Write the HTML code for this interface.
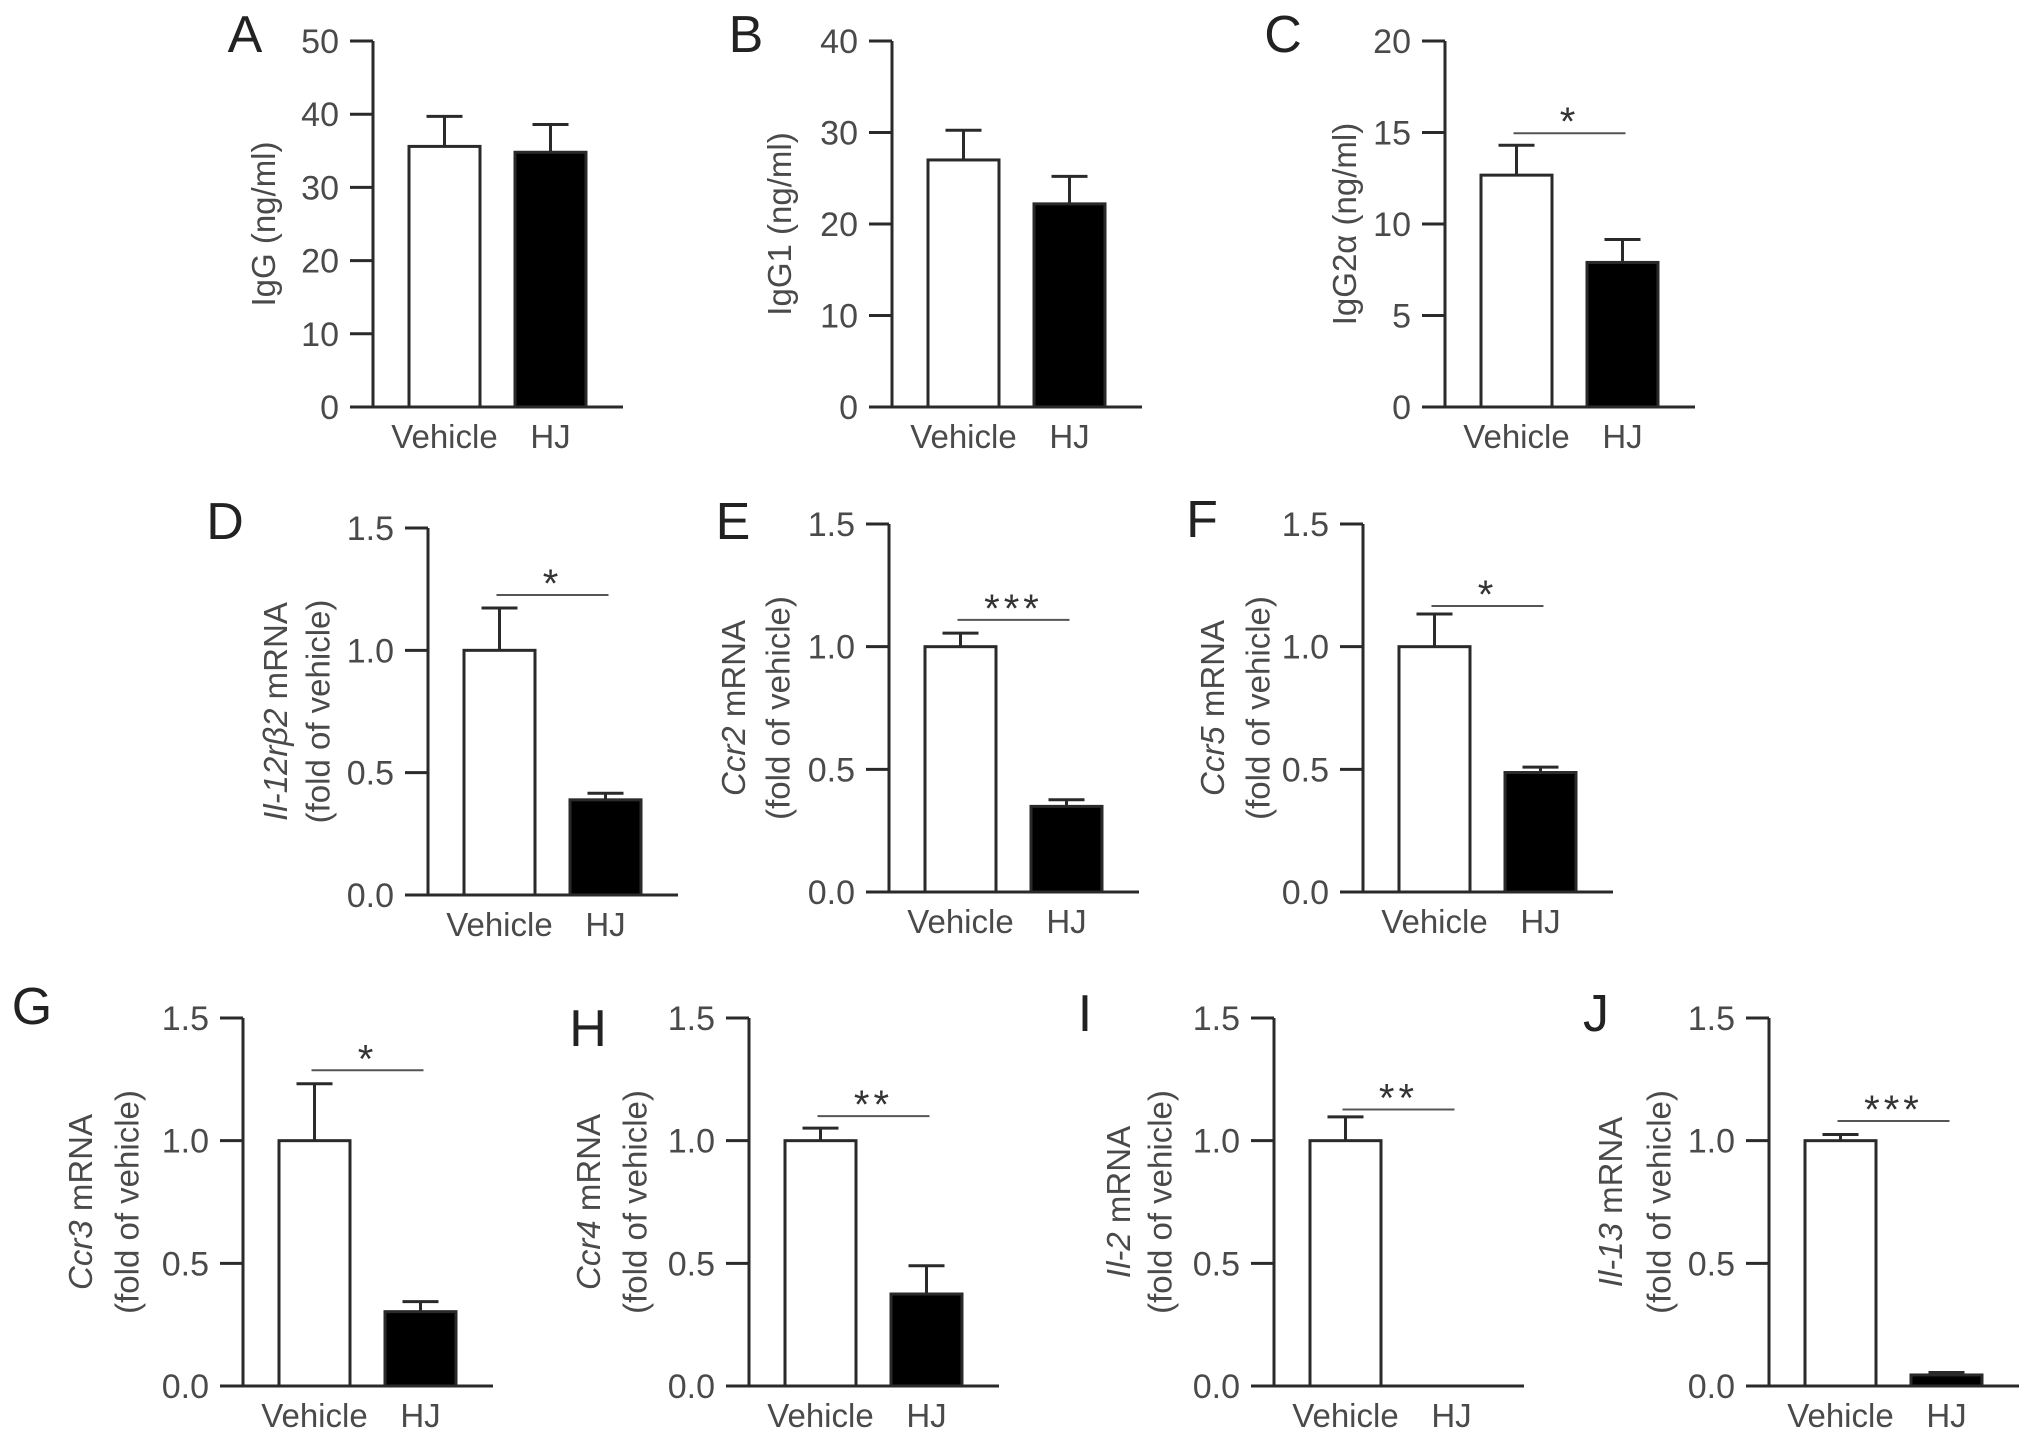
<!DOCTYPE html>
<html><head><meta charset="utf-8"><style>
html,body{margin:0;padding:0;background:#fff;}
svg{display:block;font-family:"Liberation Sans",Arial,sans-serif;}
</style></head><body>
<svg id="fig" width="2031" height="1444" viewBox="0 0 2031 1444" xmlns="http://www.w3.org/2000/svg"></svg>
<script>
const panelLetters = ["A","B","C","D","E","F","G","H","I","J"];
const groupLabels = ["Vehicle","HJ"];
const vehicleMeans = [35.6, 27.0, 12.67, 1.0, 1.0, 1.0, 1.0, 1.0, 1.0, 1.0];
const vehicleErrs  = [4.1, 3.25, 1.63, 0.173, 0.055, 0.133, 0.232, 0.051, 0.097, 0.025];
const hjMeans      = [34.8, 22.2, 7.9, 0.389, 0.349, 0.487, 0.303, 0.375, 0.0, 0.045];
const hjErrs       = [3.8, 3.0, 1.25, 0.027, 0.027, 0.022, 0.041, 0.115, 0.0, 0.01];
const yMaxes       = [50, 40, 20, 1.5, 1.5, 1.5, 1.5, 1.5, 1.5, 1.5];
const yTickSteps   = [10, 10, 5, 0.5, 0.5, 0.5, 0.5, 0.5, 0.5, 0.5];
const sigValues    = [null, null, 14.96, 1.226, 1.109, 1.166, 1.287, 1.10, 1.127, 1.08];
const sigLabels    = ["", "", "*", "*", "***", "*", "*", "**", "**", "***"];
const titleLine1 = [["","IgG (ng/ml)"],["","IgG1 (ng/ml)"],["","IgG2\u03B1 (ng/ml)"],["Il-12r\u03B22"," mRNA"],["Ccr2"," mRNA"],["Ccr5"," mRNA"],["Ccr3"," mRNA"],["Ccr4"," mRNA"],["Il-2"," mRNA"],["Il-13"," mRNA"]];
const titleLine2 = ["","","","(fold of vehicle)","(fold of vehicle)","(fold of vehicle)","(fold of vehicle)","(fold of vehicle)","(fold of vehicle)","(fold of vehicle)"];

const axisX   = [373, 892, 1445, 428, 889, 1363, 243, 749, 1274, 1769];
const axisTop = [41, 41, 41, 528, 524, 524, 1018, 1018, 1018, 1018];
const axisBot = [407, 407, 407, 895, 892, 892, 1386, 1386, 1386, 1386];
const letterPos = [[245,33],[746,33],[1283,33],[225,520],[733,520],[1202,518],[32,1005],[588,1027],[1085,1012],[1596,1012]];
const titleX1 = [263, 779, 1344, 275, 733, 1212, 80, 588, 1118, 1610];
const titleX2 = [0, 0, 0, 318, 778, 1258, 127, 635, 1160, 1659];

const NS = "http://www.w3.org/2000/svg";
const svg = document.getElementById("fig");
function mk(tag, attrs, parent) {
  const e = document.createElementNS(NS, tag);
  for (const k in attrs) e.setAttribute(k, attrs[k]);
  (parent || svg).appendChild(e);
  return e;
}
const TXT = "#4a4a4a", AX = "#2a2a2a";

for (let p = 0; p < 10; p++) {
  const g = mk("g", {});
  
  
  const ax = axisX[p], top = axisTop[p], bot = axisBot[p], ymax = yMaxes[p];
  const yScale = v => bot - (v / ymax) * (bot - top);

  const L = mk("text", {x: letterPos[p][0], y: letterPos[p][1] + 19, "text-anchor": "middle", "font-size": 52, fill: "#222"}, g);
  L.textContent = panelLetters[p];
  
  

  const ya = mk("line", {x1: ax, y1: top, x2: ax, y2: bot, stroke: AX, "stroke-width": 3}, g);
  
  
  const xa = mk("line", {x1: ax - 23, y1: bot, x2: ax + 250, y2: bot, stroke: AX, "stroke-width": 3}, g);
  
  

  const step = yTickSteps[p];
  const nT = Math.round(ymax / step);
  for (let i = 0; i <= nT; i++) {
    const v = i * step, y = yScale(v);
    const t = mk("line", {x1: ax - 23, y1: y, x2: ax, y2: y, stroke: AX, "stroke-width": 3}, g);
    
    
    const tl = mk("text", {x: ax - 34, y: y + 12, "text-anchor": "end", "font-size": 34, fill: TXT}, g);
    tl.textContent = step < 1 ? v.toFixed(1) : String(v);
    
    
  }

  const bars = [[ax + 36, ax + 107, vehicleMeans[p], vehicleErrs[p], "#fff"], [ax + 142, ax + 213, hjMeans[p], hjErrs[p], "#000"]];
  bars.forEach((b, i) => {
    const [x0, x1, m, e, fill] = b;
    const cx = (x0 + x1) / 2;
    const yt = yScale(m), ye = yScale(m + e);
    if (e > 0) {
      const el = mk("line", {x1: cx, y1: yt, x2: cx, y2: ye, stroke: AX, "stroke-width": 3}, g);
      
      
      const cap = mk("line", {x1: cx - 18, y1: ye, x2: cx + 18, y2: ye, stroke: AX, "stroke-width": 3}, g);
      
      
    }
    const r = mk("rect", {x: x0, y: yt, width: x1 - x0, height: Math.max(bot - yt, 0), fill: fill, stroke: AX, "stroke-width": 3}, g);
    
    
    const lbl = mk("text", {x: cx, y: bot + 41, "text-anchor": "middle", "font-size": 33, fill: TXT}, g);
    lbl.textContent = groupLabels[i];
    
    
  });

  if (sigValues[p] !== null) {
    const sy = yScale(sigValues[p]);
    const vx = ax + 71.5, hx = ax + 177.5;
    const sl = mk("line", {x1: vx - 3, y1: sy, x2: hx + 3, y2: sy, stroke: "#555", "stroke-width": 2}, g);
    
    
    const st = mk("text", {x: (vx + hx) / 2, y: sy + 2, "text-anchor": "middle", "font-size": 40, fill: "#333", "letter-spacing": 4}, g);
    st.textContent = sigLabels[p];
    
    
  }

  const cy = (top + bot) / 2;
  const t1 = mk("text", {x: titleX1[p], y: cy, "text-anchor": "middle", "dominant-baseline": "central", "font-size": 33, fill: TXT, transform: `rotate(-90 ${titleX1[p]} ${cy})`}, g);
  
  
  if (titleLine1[p][0]) {
    const ts = mk("tspan", {"font-style": "italic"}, t1);
    ts.textContent = titleLine1[p][0];
  }
  const ts2 = mk("tspan", {}, t1);
  ts2.textContent = titleLine1[p][1];
  if (titleLine2[p]) {
    const t2 = mk("text", {x: titleX2[p], y: cy, "text-anchor": "middle", "dominant-baseline": "central", "font-size": 33, fill: TXT, transform: `rotate(-90 ${titleX2[p]} ${cy})`}, g);
    t2.textContent = titleLine2[p];
    
    
  }
}
</script>
</body></html>
